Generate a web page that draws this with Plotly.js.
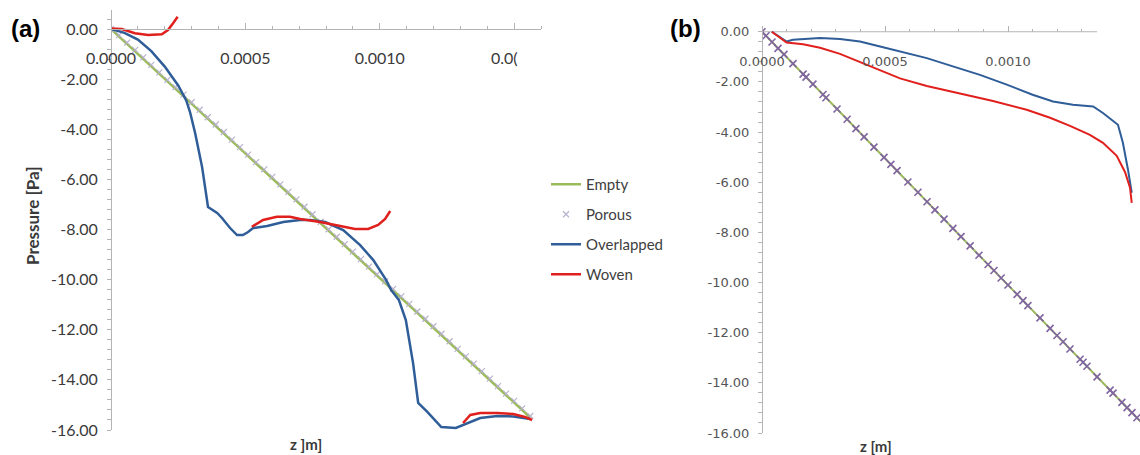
<!DOCTYPE html>
<html>
<head>
<meta charset="utf-8">
<script src="https://cdn.plot.ly/plotly-3.0.1.min.js"></script>
<style>html,body{margin:0;padding:0;background:#fff;}#chart{width:1140px;height:455px;}</style>
</head>
<body>
<div id="chart"></div>
<script>
// ---------- Data ----------
const seriesNames = ['Empty', 'Porous', 'Overlapped', 'Woven'];

// Panel (a)
const zA_empty = [0, 0.00156];
const pA_empty = [0, -15.5];

const zA_porous = [0, 0.00003, 0.00006, 0.00009, 0.00012, 0.00015, 0.00018, 0.00021, 0.00024, 0.00027,
  0.0003, 0.00033, 0.00036, 0.00039, 0.00042, 0.00045, 0.00048, 0.00051, 0.00054, 0.00057,
  0.0006, 0.00063, 0.00066, 0.00069, 0.00072, 0.00075, 0.00078, 0.00081, 0.00084, 0.00087,
  0.0009, 0.00093, 0.00096, 0.00099, 0.00102, 0.00105, 0.00108, 0.00111, 0.00114, 0.00117,
  0.0012, 0.00123, 0.00126, 0.00129, 0.00132, 0.00135, 0.00138, 0.00141, 0.00144, 0.00147,
  0.0015, 0.00153, 0.00156];
const pA_porous = [0, -0.24, -0.54, -0.83, -1.13, -1.43, -1.73, -2.03, -2.32, -2.62,
  -2.92, -3.22, -3.52, -3.81, -4.11, -4.41, -4.71, -5.01, -5.31, -5.60,
  -5.90, -6.20, -6.50, -6.80, -7.09, -7.39, -7.69, -7.99, -8.29, -8.58,
  -8.88, -9.18, -9.48, -9.78, -10.07, -10.37, -10.67, -10.97, -11.27, -11.56,
  -11.86, -12.16, -12.46, -12.76, -13.06, -13.35, -13.65, -13.95, -14.25, -14.55,
  -14.84, -15.14, -15.44];

const zA_over = [0, 0.00005, 0.0001, 0.00015, 0.0002, 0.00025, 0.00028, 0.000294, 0.000313, 0.000339,
  0.000361, 0.000395, 0.000413, 0.000443, 0.000469, 0.000491, 0.00051, 0.000529, 0.000581, 0.000641,
  0.000704, 0.000741, 0.000797, 0.000864, 0.000927, 0.000976, 0.001024, 0.001042, 0.001071, 0.001097,
  0.001124, 0.001143, 0.001177, 0.001229, 0.001283, 0.00131, 0.001374, 0.001437, 0.001497, 0.00156];
const pA_over = [0, -0.15, -0.42, -0.88, -1.5, -2.25, -2.85, -3.31, -4.15, -5.51,
  -7.1, -7.34, -7.54, -7.94, -8.22, -8.22, -8.1, -7.94, -7.86, -7.7,
  -7.62, -7.62, -7.7, -8.02, -8.62, -9.22, -10.02, -10.41, -10.81, -11.61,
  -13.33, -14.92, -15.28, -15.88, -15.92, -15.8, -15.52, -15.44, -15.46, -15.56];

const zA_woven = [0, 0.00004, 0.000089, 0.000138, 0.000189, 0.000212, 0.000231, 0.000248, null,
  0.000524, 0.000566, 0.000617, 0.000666, 0.000704, 0.000778, 0.000853, 0.000908, 0.000957, 0.000994, 0.00102, 0.001039, null,
  0.00131, 0.001337, 0.001374, 0.001437, 0.001497, 0.00154, 0.001567];
const pA_woven = [0.02, 0, -0.17, -0.24, -0.21, -0.04, 0.23, 0.49, null,
  -7.89, -7.62, -7.49, -7.49, -7.58, -7.70, -7.86, -7.98, -7.98, -7.82, -7.58, -7.26, null,
  -15.72, -15.40, -15.32, -15.32, -15.36, -15.48, -15.6];

// Panel (b)
const zB_empty = [0, 0.00156];
const pB_empty = [0, -15.76];

const zB_porous = [0, 0.0000163, 0.0000407, 0.000065, 0.0000894, 0.000126, 0.000167, 0.000179, 0.000207, 0.000248,
  0.00026, 0.000305, 0.000346, 0.000382, 0.000415, 0.000455, 0.000496, 0.000524, 0.000549, 0.000593,
  0.000634, 0.000671, 0.000703, 0.00074, 0.000776, 0.000809, 0.000846, 0.000882, 0.000919, 0.000943,
  0.000972, 0.001, 0.001037, 0.001061, 0.001081, 0.00113, 0.001171, 0.001199, 0.001224, 0.001252,
  0.001293, 0.001305, 0.001321, 0.001362, 0.001415, 0.001427, 0.001463, 0.001484, 0.001504, 0.001524];
const pB_porous = [0, -0.16, -0.41, -0.66, -0.90, -1.27, -1.69, -1.81, -2.09, -2.50,
  -2.63, -3.08, -3.49, -3.86, -4.19, -4.60, -5.01, -5.29, -5.54, -5.99,
  -6.40, -6.78, -7.10, -7.47, -7.84, -8.17, -8.54, -8.91, -9.28, -9.52,
  -9.82, -10.10, -10.47, -10.72, -10.92, -11.41, -11.83, -12.11, -12.36, -12.65,
  -13.06, -13.18, -13.34, -13.76, -14.29, -14.41, -14.78, -14.99, -15.19, -15.39];

const zB_over = [0.00004, 0.000073, 0.0001, 0.000126, 0.000236, 0.000317, 0.000398, 0.00048, 0.000561, 0.00067,
  0.000776, 0.000886, 0.000995, 0.0011, 0.001183, 0.001264, 0.001346, 0.001386, 0.001447, 0.001467,
  0.001488, 0.001503];
const pB_over = [0, -0.2, -0.39, -0.32, -0.25, -0.29, -0.39, -0.59, -0.79, -1.05,
  -1.38, -1.72, -2.11, -2.51, -2.78, -2.91, -2.98, -3.24, -3.71, -4.43,
  -5.51, -6.42];

const zB_woven = [0.00004, 0.000073, 0.0001, 0.000167, 0.000236, 0.000317, 0.000398, 0.00048, 0.000561, 0.00067,
  0.000805, 0.000939, 0.001076, 0.001171, 0.001252, 0.001333, 0.001386, 0.001442, 0.001476, 0.001496,
  0.001503];
const pB_woven = [0, -0.25, -0.43, -0.5, -0.64, -0.88, -1.2, -1.55, -1.86, -2.16,
  -2.47, -2.76, -3.11, -3.43, -3.75, -4.11, -4.43, -4.95, -5.6, -6.22,
  -6.82];

// Tick labels
const xTickValsA = [0, 0.0005, 0.001];
const xTickTextA = ['0.0000', '0.0005', '0.0010'];
const xTickValsB = [0, 0.0005, 0.001];
const xTickTextB = ['0.0000', '0.0005', '0.0010'];
const yTickVals = [0, -2, -4, -6, -8, -10, -12, -14, -16];
const yTickText = ['0.00', '-2.00', '-4.00', '-6.00', '-8.00', '-10.00', '-12.00', '-14.00', '-16.00'];

// ---------- Styles ----------
const W = 1140, H = 455;
const green = '#9bbb59', blue = '#2f5d98', red = '#e0201d';
const axisGray = '#b4b4b4';
const fontMain = 'Lato, "Open Sans", sans-serif';

function fx(px) { return px / W; }
function fy(py) { return (H - py) / H; }

const domXA = [fx(111), fx(541)], domYA = [fy(430), fy(10)];
const domXB = [fx(762), 1], domYB = [fy(433), fy(28)];
const rangeXA = [0, 0.0016], rangeYA = [-16, 0.76];
const rangeXB = [0, 0.0015366], rangeYB = [-16, 0.15];
const posX0A = fy(29), posX0B = fy(32);

const traces = [
  {x: zA_empty, y: pA_empty, name: seriesNames[0], mode: 'lines', line: {color: green, width: 2.5},
   xaxis: 'x', yaxis: 'y', legendgroup: 'g1'},
  {x: zA_porous, y: pA_porous, name: seriesNames[1], mode: 'markers',
   marker: {symbol: 'x-thin', size: 6, line: {color: '#b8b1cc', width: 1.2}},
   xaxis: 'x', yaxis: 'y', legendgroup: 'g2'},
  {x: zA_over, y: pA_over, name: seriesNames[2], mode: 'lines', line: {color: blue, width: 2.5},
   xaxis: 'x', yaxis: 'y', legendgroup: 'g3'},
  {x: zA_woven, y: pA_woven, name: seriesNames[3], mode: 'lines', line: {color: red, width: 2.5},
   connectgaps: false, xaxis: 'x', yaxis: 'y', legendgroup: 'g4'},

  {x: zB_empty, y: pB_empty, name: seriesNames[0], mode: 'lines', line: {color: green, width: 2},
   xaxis: 'x2', yaxis: 'y2', showlegend: false},
  {x: zB_porous, y: pB_porous, name: seriesNames[1], mode: 'markers',
   marker: {symbol: 'x-thin', size: 7, line: {color: '#8064a2', width: 1.6}},
   xaxis: 'x2', yaxis: 'y2', showlegend: false},
  {x: zB_over, y: pB_over, name: seriesNames[2], mode: 'lines', line: {color: blue, width: 2},
   xaxis: 'x2', yaxis: 'y2', showlegend: false},
  {x: zB_woven, y: pB_woven, name: seriesNames[3], mode: 'lines', line: {color: red, width: 2},
   xaxis: 'x2', yaxis: 'y2', showlegend: false},

  // invisible carriers so the label-only overlay axes are drawn
  {x: [null], y: [null], xaxis: 'x3', yaxis: 'y3', showlegend: false, hoverinfo: 'skip', mode: 'markers'},
  {x: [null], y: [null], xaxis: 'x4', yaxis: 'y4', showlegend: false, hoverinfo: 'skip', mode: 'markers'}
];

const tickFontA = {family: fontMain, size: 16, color: '#3a3a3a'};
const tickFontB = {family: '"DejaVu Sans", Verdana, sans-serif', size: 13, color: '#555555'};

function tickAxisX(domain, range, pos, majors, minors) {
  return {domain: domain, range: range, anchor: 'free', position: pos, side: 'top',
    showgrid: false, zeroline: false, showline: true, linecolor: axisGray, linewidth: 1,
    tickmode: 'array', tickvals: majors, ticks: 'outside', ticklen: 6, tickcolor: axisGray, tickwidth: 1,
    showticklabels: false, fixedrange: true,
    minor: {tickmode: 'array', tickvals: minors, ticks: 'outside', ticklen: 3, tickcolor: axisGray, tickwidth: 1}};
}

const minorXA = [0.0001, 0.0002, 0.0003, 0.0004, 0.0006, 0.0007, 0.0008, 0.0009, 0.0011, 0.0012, 0.0013, 0.0014, 0.0016];
const minorXB = [0.0001, 0.0002, 0.0003, 0.0004, 0.0006, 0.0007, 0.0008, 0.0009, 0.0011, 0.0012, 0.0013];

const layout = {
  width: W, height: H,
  margin: {l: 0, r: 0, t: 0, b: 0},
  paper_bgcolor: '#ffffff', plot_bgcolor: 'rgba(0,0,0,0)',
  font: {family: fontMain, color: '#404040'},
  showlegend: true,
  legend: {x: fx(546), y: fy(168), xanchor: 'left', yanchor: 'top', bgcolor: 'rgba(0,0,0,0)',
    font: {family: fontMain, size: 15, color: '#404040'}, tracegroupgap: 7.5, itemwidth: 30},

  xaxis: tickAxisX(domXA, rangeXA, posX0A, [0, 0.0005, 0.001, 0.0015], minorXA),
  xaxis3: {overlaying: 'x', range: rangeXA, anchor: 'free', position: posX0A, side: 'bottom',
    showgrid: false, zeroline: false, showline: false, tickmode: 'array', tickvals: xTickValsA, ticktext: xTickTextA,
    ticks: 'outside', ticklen: 15, tickcolor: 'rgba(0,0,0,0)', tickfont: tickFontA, fixedrange: true},
  yaxis: {domain: domYA, range: rangeYA, anchor: 'free', position: domXA[0], side: 'left',
    showgrid: false, zeroline: false, showline: true, linecolor: axisGray, linewidth: 1,
    tick0: 0, dtick: 0.4, ticks: 'outside', ticklen: 4, tickcolor: axisGray, showticklabels: false, fixedrange: true},
  yaxis3: {overlaying: 'y', range: rangeYA, anchor: 'free', position: domXA[0], side: 'left',
    showgrid: false, zeroline: false, showline: false, tickmode: 'array', tickvals: yTickVals, ticktext: yTickText,
    ticks: 'outside', ticklen: 10, tickcolor: 'rgba(0,0,0,0)', tickfont: tickFontA, fixedrange: true},

  xaxis2: Object.assign(tickAxisX(domXB, rangeXB, posX0B, [0, 0.0005, 0.001], minorXB), {showline: false}),
  xaxis4: {overlaying: 'x2', range: rangeXB, anchor: 'free', position: posX0B, side: 'bottom',
    showgrid: false, zeroline: false, showline: false, tickmode: 'array', tickvals: xTickValsB, ticktext: xTickTextB,
    ticks: 'outside', ticklen: 17, tickcolor: 'rgba(0,0,0,0)', tickfont: tickFontB, fixedrange: true},
  yaxis2: {domain: domYB, range: rangeYB, anchor: 'free', position: domXB[0], side: 'left',
    showgrid: false, zeroline: false, showline: true, linecolor: axisGray, linewidth: 1,
    tick0: 0, dtick: 0.4, ticks: 'outside', ticklen: 4, tickcolor: axisGray, showticklabels: false, fixedrange: true},
  yaxis4: {overlaying: 'y2', range: rangeYB, anchor: 'free', position: domXB[0], side: 'left',
    showgrid: false, zeroline: false, showline: false, tickmode: 'array', tickvals: yTickVals, ticktext: yTickText,
    ticks: 'outside', ticklen: 10, tickcolor: 'rgba(0,0,0,0)', tickfont: tickFontB, fixedrange: true},

  shapes: [
    {type: 'line', xref: 'x2', yref: 'y2', x0: 0, x1: 0.001362, y0: 0, y1: 0, layer: 'below',
     line: {color: axisGray, width: 1}}
  ],
  annotations: [
    {text: '<b>(a)</b>', xref: 'paper', yref: 'paper', x: fx(25), y: fy(29), xanchor: 'center', yanchor: 'middle',
     showarrow: false, font: {family: 'Liberation Sans, Arial, sans-serif', size: 24, color: '#000'}},
    {text: '<b>(b)</b>', xref: 'paper', yref: 'paper', x: fx(685), y: fy(28), xanchor: 'center', yanchor: 'middle',
     showarrow: false, font: {family: 'Liberation Sans, Arial, sans-serif', size: 24, color: '#000'}},
    {text: '<b>Pressure [Pa]</b>', xref: 'paper', yref: 'paper', x: fx(32), y: fy(216), textangle: -90,
     xanchor: 'center', yanchor: 'middle', showarrow: false, font: {family: fontMain, size: 17, color: '#3a3a3a'}},
    {text: '<b>z ]m]</b>', xref: 'paper', yref: 'paper', x: fx(306), y: fy(444), xanchor: 'center', yanchor: 'middle',
     showarrow: false, font: {family: fontMain, size: 15, color: '#3a3a3a'}},
    {text: '<b>z [m]</b>', xref: 'paper', yref: 'paper', x: fx(876), y: fy(446), xanchor: 'center', yanchor: 'middle',
     showarrow: false, font: {family: fontMain, size: 15, color: '#3a3a3a'}},
    {text: '0.0(', xref: 'paper', yref: 'paper', x: fx(489), y: fy(58), xanchor: 'left', yanchor: 'middle',
     showarrow: false, font: tickFontA}
  ]
};

Plotly.newPlot('chart', traces, layout, {displayModeBar: false, staticPlot: true});
</script>
</body>
</html>
